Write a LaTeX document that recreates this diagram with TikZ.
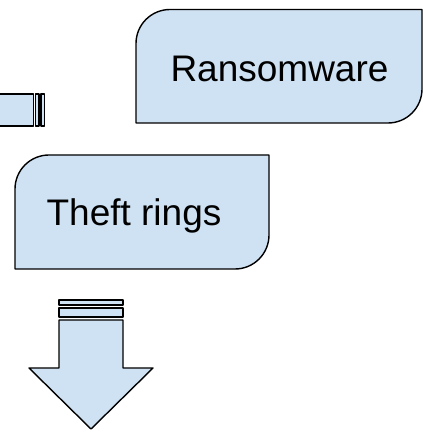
\documentclass[tikz,border=0pt]{standalone}
\usepackage{fontspec}
\setmainfont{Liberation Sans}
\definecolor{boxblue}{HTML}{CFE2F3}

\begin{document}
\begin{tikzpicture}[x=1pt, y=1pt,
    shapeline/.style={draw=black, fill=boxblue, line width=1.4pt, line join=round},
    label/.style={anchor=base, inner sep=0pt, font=\fontsize{37}{44}\selectfont}]

      % Define corner radius
      \def\r{34}

      \useasboundingbox (0,0) rectangle (423,434);

      % Draw the ransomware box
      \draw[shapeline] (136,311) -- (136,424.5-\r) arc[start angle=180, end angle=90, radius=\r]
        -- (422,424.5) -- (422,311+\r) arc[start angle=0, end angle=-90, radius=\r] -- cycle;
      \node[label] (ransom) at (279.5,352.5) {Ransomware};

      % Draw the theft rings box
      \draw[shapeline] (15,165) -- (15,279-\r) arc[start angle=180, end angle=90, radius=\r]
        -- (269,279) -- (269,165+\r) arc[start angle=0, end angle=-90, radius=\r] -- cycle;
      \node[label] (theft) at (134,208) {Theft rings};

      % Draw the stub on the left
      \draw[shapeline] (-5,308) rectangle (33.5,340);
      \draw[shapeline] (35.5,308) rectangle (39,340);
      \draw[shapeline] (41,308) rectangle (44.3,340);

      % Draw the down arrow
      \draw[shapeline] (59,129) rectangle (123,134);
      \draw[shapeline] (59,117) rectangle (123,126);
      \draw[shapeline] (59,114) -- (123,114) -- (123,66) -- (153,66) -- (91,5)
        -- (29,66) -- (59,66) -- cycle;
    \end{tikzpicture}
\end{document}
